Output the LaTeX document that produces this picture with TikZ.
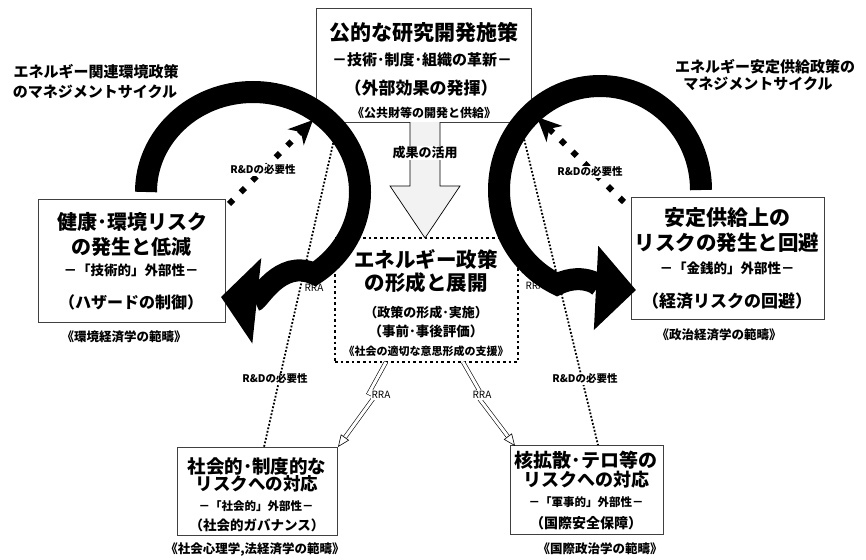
\documentclass[tikz,border=0pt]{standalone}
\usepackage{fontspec}
\setmainfont{Noto Sans CJK JP}
\usetikzlibrary{arrows.meta}
\newcommand{\fz}[1]{\fontsize{#1}{#1}\selectfont\bfseries}
\newcommand{\fr}[1]{\fontsize{#1}{#1}\selectfont}
\begin{document}
\begin{tikzpicture}[x=1pt,y=-1pt,
  box/.style={draw=black!75,line width=0.8pt,inner sep=0pt,fill=white},
  txt/.style={inner sep=0pt,anchor=center},
  ring/.style={line width=22pt,black},
  thindot/.style={line width=1.8pt,dash pattern=on 1.8pt off 1.8pt},
  diam/.style={line width=6pt,dash pattern=on 6pt off 10.5pt},
  lab/.style={fill=white,inner sep=1pt,font=\fz{10.5}},
  rra/.style={double=white,double distance=3pt,line width=0.6pt},
  rtip/.style={line width=0.6pt,-{Triangle[open,length=12pt,width=10pt]}},
]
\useasboundingbox (0,0) rectangle (866,559);
\fill[white] (0,0) rectangle (866,559);

% titles
\node[txt,font=\fz{15}] (tl1) at (96,72) {エネルギー関連環境政策};
\node[txt,font=\fz{15}] (tl2) at (95,92) {のマネジメントサイクル};
\node[txt,font=\fz{15}] (tr1) at (765,67) {エネルギー安定供給政策の};
\node[txt,font=\fz{15}] (tr2) at (758,84) {マネジメントサイクル};

% boxes
\node[box,minimum width=215pt,minimum height=114pt] (top) at (423.5,65) {};
\node[box,minimum width=187pt,minimum height=123pt] (lbox) at (131.5,260.5) {};
\node[box,minimum width=193pt,minimum height=122pt] (rbox) at (727.5,258) {};
\node[box,minimum width=160pt,minimum height=88pt] (blbox) at (257,491) {};
\node[box,minimum width=153pt,minimum height=89pt] (brbox) at (586.5,489.5) {};
\node[draw,fill=white,line width=2.6pt,dash pattern=on 2.6pt off 3pt,inner sep=0pt,
      minimum width=183pt,minimum height=124pt] (cbox) at (426.5,300) {};

% thin dotted R&D lines
\coordinate (dA1) at (338,122);
\coordinate (dA2) at (264,447);
\coordinate (dB1) at (520,122);
\coordinate (dB2) at (598,445);
\draw[thindot] (dA1) -- (dA2);
\draw[thindot] (dB1) -- (dB2);
\node[lab] (labA) at (275,379) {R\&Dの必要性};
\node[lab] (labB) at (585,379) {R\&Dの必要性};

% hidden RRA labels under the rings
\node[txt,font=\fr{10}] (rraL) at (314,288) {RRA};
\node[txt,font=\fr{10}] (rraR) at (535,286) {RRA};

% hollow arrow
\draw[line width=0.7pt,fill=gray!10] (410,122) -- (410,186) -- (390,186) -- (425,238) -- (460,186) -- (440,186) -- (440,122);
\node[txt,fill=white,inner sep=1pt,font=\fz{13}] (use) at (425,153) {成果の活用};

% RRA arrows
\coordinate (rL0) at (386,362);
\coordinate (rL1) at (369,393);
\coordinate (rL2) at (375,396);
\coordinate (rLb) at (345,437.3);
\coordinate (rLt) at (338,447);
\draw[rra] (rL0) -- (rL1) -- (rL2) -- (rLb);
\draw[rtip] (rLb) -- (rLt);
\node[txt,fill=white,inner sep=1pt,font=\fr{10}] (rraA) at (381,395) {RRA};
\coordinate (rR0) at (463,362);
\coordinate (rR1) at (479,390);
\coordinate (rR2) at (475,393);
\coordinate (rRb) at (507.8,436.4);
\coordinate (rRt) at (515,446);
\draw[rra] (rR0) -- (rR1) -- (rR2) -- (rRb);
\draw[rtip] (rRb) -- (rRt);
\node[txt,fill=white,inner sep=1pt,font=\fr{10}] (rraB) at (482,395) {RRA};

% big rings
\coordinate (ringL0) at (146,192);
\coordinate (tipL) at (221,297);
\draw[ring,-{Triangle[length=36pt,width=84pt]}] (ringL0) arc[start angle=180,end angle=415,x radius=107,y radius=100] to[out=155,in=-6] (tipL);
\coordinate (ringR0) at (701,190);
\coordinate (tipR) at (636,290);
\draw[ring,-{Triangle[length=40pt,width=82pt]}] (ringR0) arc[start angle=0,end angle=-245,x radius=101,y radius=104] to[out=26,in=177] (tipR);

% diamond arrows
\coordinate (dL1) at (229,204);
\coordinate (dL2) at (313,120);
\draw[diam,-{Stealth[length=24pt,width=22pt,inset=7pt]}] (dL1) -- (dL2);
\node[lab] (labC) at (263,170) {R\&Dの必要性};
\coordinate (dR1) at (624,202);
\coordinate (dR2) at (537,117);
\draw[diam,-{Stealth[length=24pt,width=22pt,inset=7pt]}] (dR1) -- (dR2);
\node[lab] (labD) at (590,172) {R\&Dの必要性};

% top box texts
\node[txt,font=\fz{21}] (t1) at (424,33) {公的な研究開発施策};
\node[txt,font=\fz{15}] (t2) at (422,60) {－技術･制度･組織の革新－};
\node[txt,font=\fz{17}] (t3) at (421,88) {（外部効果の発揮）};
\node[txt,font=\fz{12}] (t4) at (424,113) {《公共財等の開発と供給》};

% left box texts
\node[txt,font=\fz{20}] (l1) at (132,222) {健康･環境リスク};
\node[txt,font=\fz{20}] (l2) at (131,247) {の発生と低減};
\node[txt,font=\fz{13.5}] (l3) at (131,270) {－「技術的」外部性－};
\node[txt,font=\fz{16}] (l4) at (131,302) {（ハザードの制御）};
\node[txt,font=\fz{12.5}] (l5) at (124,337) {《環境経済学の範疇》};

% right box texts
\node[txt,font=\fz{21}] (r1) at (727,218) {安定供給上の};
\node[txt,font=\fz{20.5}] (r2) at (727,243) {リスクの発生と回避};
\node[txt,font=\fz{13.5}] (r3) at (727,268) {－「金銭的」外部性－};
\node[txt,font=\fz{17}] (r4) at (727,301) {（経済リスクの回避）};
\node[txt,font=\fz{12.5}] (r5) at (719,335) {《政治経済学の範疇》};

% center box texts
\node[txt,font=\fz{20.5}] (c1) at (426,260) {エネルギー政策};
\node[txt,font=\fz{20.5}] (c2) at (426,283) {の形成と展開};
\node[txt,font=\fz{13}] (c3) at (426,313) {（政策の形成･実施）};
\node[txt,font=\fz{13.5}] (c4) at (426,331) {（事前･事後評価）};
\node[txt,font=\fz{11}] (c5) at (426,351) {《社会の適切な意思形成の支援》};

% bottom-left texts
\node[txt,font=\fz{18.5}] (bl1) at (257,467) {社会的･制度的な};
\node[txt,font=\fz{17.5}] (bl2) at (257,484) {リスクへの対応};
\node[txt,font=\fz{11.5}] (bl3) at (256,506) {－「社会的」外部性－};
\node[txt,font=\fz{13.5}] (bl4) at (257,525) {（社会的ガバナンス）};
\node[txt,font=\fz{12.5}] (bl5) at (255,550) {《社会心理学,法経済学の範疇》};

% bottom-right texts
\node[txt,font=\fz{19}] (br1) at (586,460) {核拡散･テロ等の};
\node[txt,font=\fz{18}] (br2) at (586,480) {リスクへの対応};
\node[txt,font=\fz{11.5}] (br3) at (586,502) {－「軍事的」外部性－};
\node[txt,font=\fz{14}] (br4) at (586,523) {（国際安全保障）};
\node[txt,font=\fz{12.5}] (br5) at (600,549) {《国際政治学の範疇》};
\end{tikzpicture}
\end{document}
